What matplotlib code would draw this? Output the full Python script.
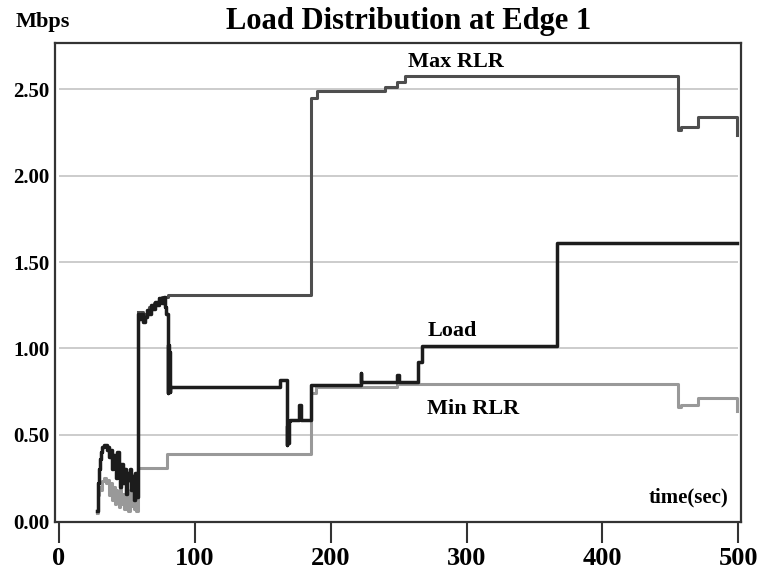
import numpy as np
import matplotlib.pyplot as plt

# load on edge 1 (Mbps) sampled as step changes over time (sec)
load_t = [28.0, 28.6, 29.5, 30.2, 31.0, 32.0, 33.5, 35.0, 36.0, 37.0, 38.0, 39.0,
          40.0, 41.0, 42.0, 43.0, 44.0, 45.0, 46.0, 47.0, 48.0, 49.0, 50.0, 51.0,
          52.0, 53.0, 54.0, 55.0, 56.0, 57.0, 58.0, 59.0, 60.5, 62.0, 63.5, 65.0,
          66.5, 68.0, 69.5, 71.0, 72.5, 74.0, 75.5, 77.0, 78.0, 79.0, 80.0, 80.4,
          80.8, 81.2, 81.6, 82.0, 163.0, 167.5, 168.0, 168.5, 169.0, 170.0, 176.5,
          178.0, 185.5, 222.0, 222.6, 249.0, 250.0, 264.0, 267.0, 366.5, 499.0]
load_v = [0.06, 0.22, 0.30, 0.36, 0.40, 0.43, 0.44, 0.41, 0.43, 0.37, 0.41, 0.30,
          0.38, 0.33, 0.25, 0.40, 0.27, 0.20, 0.33, 0.22, 0.30, 0.16, 0.28, 0.24,
          0.30, 0.18, 0.26, 0.12, 0.28, 0.14, 1.20, 1.17, 1.20, 1.15, 1.18, 1.22,
          1.20, 1.25, 1.23, 1.27, 1.25, 1.29, 1.26, 1.30, 1.24, 1.20, 0.74, 1.02,
          0.76, 0.98, 0.75, 0.776, 0.815, 0.44, 0.55, 0.45, 0.58, 0.585, 0.67,
          0.585, 0.79, 0.857, 0.805, 0.845, 0.805, 0.92, 1.013, 1.61, 1.61]

max_t = [58.0, 62.0, 66.0, 70.0, 74.0, 76.0, 80.0, 185.5, 190.0, 240.0, 249.0,
         254.7, 455.6, 458.0, 470.0, 499.0]
max_v = [1.21, 1.20, 1.24, 1.26, 1.29, 1.30, 1.31, 2.45, 2.49, 2.515, 2.54,
         2.577, 2.264, 2.28, 2.34, 2.235]

min_t = [28.0, 28.6, 29.5, 30.5, 31.5, 33.0, 34.5, 36.0, 37.0, 38.0, 39.0, 40.0,
         41.0, 42.0, 43.0, 44.0, 45.0, 46.0, 47.0, 48.0, 49.0, 50.0, 51.0, 52.0,
         53.0, 54.0, 55.0, 56.0, 57.0, 58.0, 79.5, 185.5, 189.0, 249.0, 455.6,
         458.0, 470.0, 499.0]
min_v = [0.05, 0.15, 0.20, 0.18, 0.23, 0.25, 0.22, 0.24, 0.15, 0.22, 0.12, 0.20,
         0.10, 0.18, 0.14, 0.08, 0.19, 0.10, 0.16, 0.07, 0.17, 0.12, 0.06, 0.18,
         0.09, 0.15, 0.07, 0.16, 0.06, 0.307, 0.39, 0.74, 0.776, 0.795, 0.66,
         0.67, 0.71, 0.64]

yticks = [0.0, 0.5, 1.0, 1.5, 2.0, 2.5]
xticks = [0, 100, 200, 300, 400, 500]

plt.rcParams['font.family'] = ['Liberation Serif', 'DejaVu Serif']
plt.rcParams['font.weight'] = 'bold'

fig = plt.figure(figsize=(7.61, 5.70), dpi=100)
ax = fig.add_axes([0.0723, 0.0842, 0.9014, 0.8404])

ax.hlines(yticks[1:], 0, 500, colors='#c4c4c4', linewidth=1.2, zorder=1)

ax.plot(max_t, max_v, drawstyle='steps-post', color='#4e4e4e', linewidth=2.2, zorder=2)
ax.plot(min_t, min_v, drawstyle='steps-post', color='#999999', linewidth=2.2, zorder=3)
ax.plot(load_t, load_v, drawstyle='steps-post', color='#1c1c1c', linewidth=2.5, zorder=4)

ax.set_xlim(-2.9, 502)
ax.set_ylim(-0.005, 2.768)

ax.set_xticks(xticks)
ax.set_xticklabels([str(t) for t in xticks], fontsize=19)
ax.set_yticks(yticks)
ax.set_yticklabels(['%.2f' % v for v in yticks], fontsize=15)
ax.tick_params(axis='x', direction='out', length=15, width=1.5, color='#333333', pad=3)
ax.tick_params(axis='y', length=0, pad=4)
for s in ax.spines.values():
    s.set_color('#333333')
    s.set_linewidth(1.6)

ax.text(257, 2.66, 'Max RLR', fontsize=16, va='center', ha='left')
ax.text(271.5, 1.10, 'Load', fontsize=16, va='center', ha='left')
ax.text(271, 0.65, 'Min RLR', fontsize=16, va='center', ha='left')
ax.text(492.5, 0.139, 'time(sec)', fontsize=15, va='center', ha='right')

fig.text(0.537, 0.962, 'Load Distribution at Edge 1', fontsize=22, ha='center', va='center')
fig.text(0.020, 0.962, 'Mbps', fontsize=16, ha='left', va='center')

fig.savefig('out.png', dpi=100)
